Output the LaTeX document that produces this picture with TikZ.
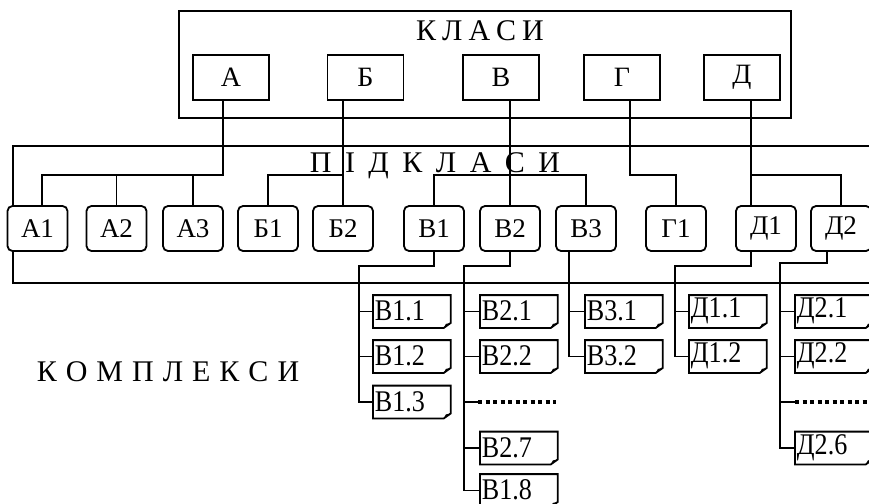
\documentclass[tikz,border=0pt]{standalone}
\usepackage{fontspec}
\setmainfont{Liberation Serif}
\newfontfamily\narrowserif{Liberation Serif}[FakeStretch=0.87]
% complex box with a folded bottom-right corner: name, left x, centre y, text
\newcommand\cplx[4]{%
  \node[cplxbox] (#1) at (#2,#3) {};
  \draw[fill=white] (#1.north west) -- (#1.north east) -- ([yshift=5pt]#1.south east)
     -- ([xshift=-7pt]#1.south east) -- (#1.south west) -- cycle;
  \fill ([yshift=5pt]#1.south east) -- ([xshift=-7pt]#1.south east)
     -- ([xshift=-5pt,yshift=4pt]#1.south east) -- cycle;
  \node[cplxtxt] (#1t) at ([xshift=1pt,yshift=0.5pt]#1.west) {#4};
}
\begin{document}
\begin{tikzpicture}[x=1pt,y=-1pt,line width=1.8pt,
  clsbox/.style={draw,fill=white,minimum width=76pt,minimum height=45pt,inner sep=0pt,
    font=\fontsize{28}{28}\selectfont},
  subbox/.style={draw,fill=white,rounded corners=5pt,minimum width=60pt,minimum height=45pt,
    inner sep=0pt,font=\fontsize{27}{27}\selectfont},
  frame/.style={draw,inner sep=0pt,anchor=north west},
  cplxbox/.style={minimum width=76pt,minimum height=31pt,inner sep=0pt,anchor=west},
  cplxtxt/.style={inner sep=0pt,anchor=west,font=\narrowserif\fontsize{30}{30}\selectfont},
  title/.style={inner sep=0pt,font=\fontsize{30}{30}\selectfont},
  dotrun/.style={line width=3.2pt,dash pattern=on 4pt off 3.5pt}
]
\useasboundingbox (0,0) rectangle (869,503);
\clip (0,0) rectangle (869,503);

% ---- classes ----
\node[frame,minimum width=612pt,minimum height=107pt] (classes) at (178,10) {};
\node[title] (classtitle) at (480,31) {К\hspace{6pt}Л\hspace{6pt}А\hspace{6pt}С\hspace{6pt}И};
\node[clsbox] (A) at (231,77.5) {А};
\node[clsbox] (B) at (365.5,77.5) {Б};
\node[clsbox] (V) at (501,77.5) {В};
\node[clsbox] (G) at (622,77.5) {Г};
\node[clsbox] (D) at (742,77.5) {Д};

% ---- subclasses ----
\node[frame,minimum width=900pt,minimum height=137pt] (subclasses) at (12,145) {};
\node[title] (subtitle) at (435,166) {П\hspace{13.5pt}І\hspace{13.5pt}Д\hspace{13.5pt}К\hspace{13.5pt}Л\hspace{13.5pt}А\hspace{13.5pt}С\hspace{13.5pt}И};
\coordinate (bus) at (0,175);

\node[subbox] (A1) at (37.5,228.5) {А1};
\node[subbox] (A2) at (116.5,228.5) {А2};
\node[subbox] (A3) at (193,228.5) {А3};
\node[subbox] (B1) at (268,228.5) {Б1};
\node[subbox] (B2) at (343,228.5) {Б2};
\node[subbox] (V1) at (434,228.5) {В1};
\node[subbox] (V2) at (510,228.5) {В2};
\node[subbox] (V3) at (586,228.5) {В3};
\node[subbox] (G1) at (676,228.5) {Г1};
\node[subbox] (D1) at (766,228.5) {Д1};
\node[subbox] (D2) at (841,228.5) {Д2};

% class -> subclass connectors
\draw ([xshift=-8pt]A.south) |- ([xshift=4.5pt]A1.north |- bus) -- ([xshift=4.5pt]A1.north);
\draw (A2.north) -- (A2.north |- bus);
\draw (A3.north) -- (A3.north |- bus);
\draw (B2.north |- B.south) -- (B2.north);
\draw (B1.north) |- (B2.north |- bus);
\draw (V2.north |- V.south) -- (V2.north);
\draw (V1.north) |- (V3.north |- bus) -- (V3.north);
\draw ([xshift=8pt]G.south) |- (G1.north |- bus) -- (G1.north);
\draw ([xshift=9pt]D.south) -- ([xshift=9pt]D.south |- D1.north);
\draw ([xshift=9pt]D.south |- bus) -| (D2.north);

% ---- complexes ----
\node[title] (comptitle) at (168,372) {К\hspace{9pt}О\hspace{9pt}М\hspace{9pt}П\hspace{9pt}Л\hspace{9pt}Е\hspace{9pt}К\hspace{9pt}С\hspace{9pt}И};

\coordinate (t1) at (359,266);
\coordinate (t2) at (464,266);
\coordinate (t3) at ([xshift=-17pt]V3.south);
\coordinate (t4) at (675,266);
\coordinate (t5) at (780,263);
\coordinate (dots2) at (478,402);
\coordinate (dots2e) at (556,402);
\coordinate (dots5) at (795,402);
\coordinate (dots5e) at (880,402);

\cplx{k11}{373}{311.5}{В1.1}
\cplx{k12}{373}{356.5}{В1.2}
\cplx{k13}{373}{402}{В1.3}
\cplx{k21}{480}{311.5}{В2.1}
\cplx{k22}{480}{356.5}{В2.2}
\cplx{k27}{480}{448}{В2.7}
\cplx{k28}{480}{490.5}{В1.8}
\cplx{k31}{585}{311.5}{В3.1}
\cplx{k32}{585}{356.5}{В3.2}
\cplx{k41}{689}{311.5}{Д1.1}
\cplx{k42}{689}{356.5}{Д1.2}
\cplx{k51}{795}{311.5}{Д2.1}
\cplx{k52}{795}{356.5}{Д2.2}
\cplx{k56}{795}{448}{Д2.6}

% subclass -> complex connectors
\draw (V1.south) |- (t1) -- (t1 |- k13.west) -- (k13.west);
\draw (t1 |- k11.west) -- (k11.west);
\draw (t1 |- k12.west) -- (k12.west);

\draw (V2.south) |- (t2) -- (t2 |- k28.west) -- (k28.west);
\draw (t2 |- k21.west) -- (k21.west);
\draw (t2 |- k22.west) -- (k22.west);
\draw (t2 |- k27.west) -- (k27.west);
\draw (t2 |- dots2) -- (dots2);
\draw[dotrun] (dots2) -- (dots2e);

\draw (t3) -- (t3 |- k32.west) -- (k32.west);
\draw (t3 |- k31.west) -- (k31.west);

\draw ([xshift=-15pt]D1.south) |- (t4) -- (t4 |- k42.west) -- (k42.west);
\draw (t4 |- k41.west) -- (k41.west);

\draw ([xshift=-14pt]D2.south) |- (t5) -- (t5 |- k56.west) -- (k56.west);
\draw (t5 |- k51.west) -- (k51.west);
\draw (t5 |- k52.west) -- (k52.west);
\draw (t5 |- dots5) -- (dots5);
\draw[dotrun] (dots5) -- (dots5e);
\end{tikzpicture}
\end{document}
